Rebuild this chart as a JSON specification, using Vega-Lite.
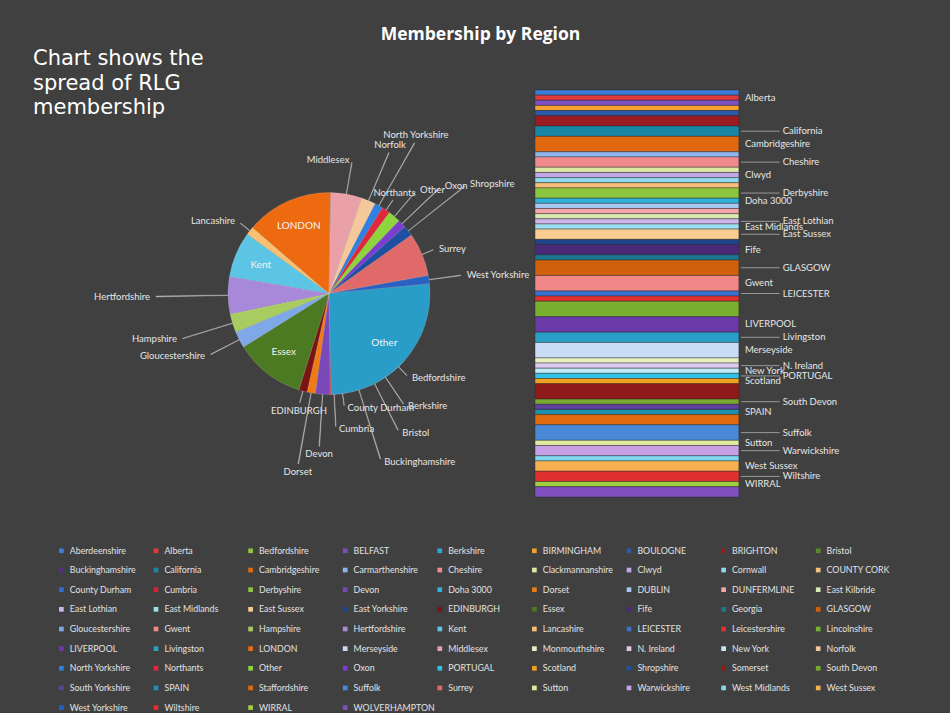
{
  "$schema": "https://vega.github.io/schema/vega-lite/v6.json",
  "background": "#404040",
  "padding": {"left": 33, "top": 25, "right": 49, "bottom": 5},
  "bounds": "flush",
  "spacing": 76,
  "title": {"text": "Membership by Region", "font": "Open Sans", "fontSize": 17.5, "fontWeight": "bold", "color": "#ffffff", "anchor": "middle", "offset": 5, "dx": 13},
  "data": {"values": [
    {"region": "Aberdeenshire", "members": 1},
    {"region": "Alberta", "members": 1, "lbl": true},
    {"region": "Bedfordshire", "members": 8},
    {"region": "BELFAST", "members": 1},
    {"region": "Berkshire", "members": 8},
    {"region": "BIRMINGHAM", "members": 1},
    {"region": "BOULOGNE", "members": 1},
    {"region": "BRIGHTON", "members": 2},
    {"region": "Bristol", "members": 4},
    {"region": "Buckinghamshire", "members": 12},
    {"region": "California", "members": 2, "lbl": true},
    {"region": "Cambridgeshire", "members": 3, "lbl": true},
    {"region": "Carmarthenshire", "members": 1},
    {"region": "Cheshire", "members": 2, "lbl": true},
    {"region": "Clackmannanshire", "members": 1},
    {"region": "Clwyd", "members": 1, "lbl": true},
    {"region": "Cornwall", "members": 1},
    {"region": "COUNTY CORK", "members": 1},
    {"region": "County Durham", "members": 4},
    {"region": "Cumbria", "members": 4},
    {"region": "Derbyshire", "members": 2, "lbl": true},
    {"region": "Devon", "members": 7},
    {"region": "Doha 3000", "members": 1, "lbl": true},
    {"region": "Dorset", "members": 4},
    {"region": "DUBLIN", "members": 1},
    {"region": "DUNFERMLINE", "members": 1},
    {"region": "East Kilbride", "members": 1},
    {"region": "East Lothian", "members": 1, "lbl": true},
    {"region": "East Midlands", "members": 1, "lbl": true},
    {"region": "East Sussex", "members": 2, "lbl": true},
    {"region": "East Yorkshire", "members": 1},
    {"region": "EDINBURGH", "members": 4},
    {"region": "Essex", "members": 34},
    {"region": "Fife", "members": 2, "lbl": true},
    {"region": "Georgia", "members": 1},
    {"region": "GLASGOW", "members": 3, "lbl": true},
    {"region": "Gloucestershire", "members": 8},
    {"region": "Gwent", "members": 3, "lbl": true},
    {"region": "Hampshire", "members": 9},
    {"region": "Hertfordshire", "members": 18},
    {"region": "Kent", "members": 22},
    {"region": "Lancashire", "members": 4},
    {"region": "LEICESTER", "members": 1, "lbl": true},
    {"region": "Leicestershire", "members": 1},
    {"region": "Lincolnshire", "members": 3},
    {"region": "LIVERPOOL", "members": 3, "lbl": true},
    {"region": "Livingston", "members": 2, "lbl": true},
    {"region": "LONDON", "members": 42},
    {"region": "Merseyside", "members": 3, "lbl": true},
    {"region": "Middlesex", "members": 15},
    {"region": "Monmouthshire", "members": 1},
    {"region": "N. Ireland", "members": 1, "lbl": true},
    {"region": "New York", "members": 1, "lbl": true},
    {"region": "Norfolk", "members": 7},
    {"region": "North Yorkshire", "members": 4},
    {"region": "Northants", "members": 4},
    {"region": "Other", "members": 6},
    {"region": "Oxon", "members": 4},
    {"region": "PORTUGAL", "members": 1, "lbl": true},
    {"region": "Scotland", "members": 1, "lbl": true},
    {"region": "Shropshire", "members": 5},
    {"region": "Somerset", "members": 3},
    {"region": "South Devon", "members": 1, "lbl": true},
    {"region": "South Yorkshire", "members": 1},
    {"region": "SPAIN", "members": 1, "lbl": true},
    {"region": "Staffordshire", "members": 2},
    {"region": "Suffolk", "members": 3, "lbl": true},
    {"region": "Surrey", "members": 21},
    {"region": "Sutton", "members": 1, "lbl": true},
    {"region": "Warwickshire", "members": 2, "lbl": true},
    {"region": "West Midlands", "members": 1},
    {"region": "West Sussex", "members": 2, "lbl": true},
    {"region": "West Yorkshire", "members": 4},
    {"region": "Wiltshire", "members": 2, "lbl": true},
    {"region": "WIRRAL", "members": 1, "lbl": true},
    {"region": "WOLVERHAMPTON", "members": 2}
  ]},
  "hconcat": [
    {
      "width": 260,
      "height": 407,
      "title": {"text": ["Chart shows the", "spread of RLG", "membership"], "anchor": "start", "frame": "group", "font": "DejaVu Sans", "fontSize": 21, "fontWeight": "normal", "color": "#ffffff", "lineHeight": 24.5, "dx": -166, "dy": 32},
      "transform": [
        {"calculate": "datum.members < 4", "as": "agg"},
        {"calculate": "datum.agg ? '(Other)' : datum.region", "as": "slice"},
        {"aggregate": [{"op": "sum", "field": "members", "as": "members"}], "groupby": ["slice", "agg"]},
        {"calculate": "datum.agg ? '~' : lower(datum.slice)", "as": "k"},
        {"stack": "members", "groupby": [], "sort": [{"field": "k"}], "as": ["a0", "a1"]},
        {"joinaggregate": [{"op": "sum", "field": "members", "as": "tot"}]},
        {"calculate": "(datum.a0 + datum.a1) / 2", "as": "am"},
        {"calculate": "(131.7 + 360 * datum.am / datum.tot) % 360", "as": "ang"},
        {"calculate": "datum.agg ? 'Other' : datum.slice", "as": "label"}
      ],
      "layer": [
        {
          "transform": [{"filter": "!datum.agg"}],
          "mark": {"type": "arc", "outerRadius": 101, "stroke": "#ffffff", "strokeWidth": 0.4, "strokeOpacity": 0.35},
          "encoding": {
            "theta": {"field": "a0", "type": "quantitative", "stack": null, "scale": {"type": "linear", "zero": true, "nice": false, "range": [2.2986, 8.5818]}},
            "theta2": {"field": "a1"},
            "color": {
              "field": "slice", "type": "nominal",
              "scale": {
                "domain": ["Aberdeenshire","Alberta","Bedfordshire","BELFAST","Berkshire","BIRMINGHAM","BOULOGNE","BRIGHTON","Bristol","Buckinghamshire","California","Cambridgeshire","Carmarthenshire","Cheshire","Clackmannanshire","Clwyd","Cornwall","COUNTY CORK","County Durham","Cumbria","Derbyshire","Devon","Doha 3000","Dorset","DUBLIN","DUNFERMLINE","East Kilbride","East Lothian","East Midlands","East Sussex","East Yorkshire","EDINBURGH","Essex","Fife","Georgia","GLASGOW","Gloucestershire","Gwent","Hampshire","Hertfordshire","Kent","Lancashire","LEICESTER","Leicestershire","Lincolnshire","LIVERPOOL","Livingston","LONDON","Merseyside","Middlesex","Monmouthshire","N. Ireland","New York","Norfolk","North Yorkshire","Northants","Other","Oxon","PORTUGAL","Scotland","Shropshire","Somerset","South Devon","South Yorkshire","SPAIN","Staffordshire","Suffolk","Surrey","Sutton","Warwickshire","West Midlands","West Sussex","West Yorkshire","Wiltshire","WIRRAL","WOLVERHAMPTON"],
                "range": ["#3b7dd8","#e03a3e","#8cc63e","#7d4fc0","#2ca9d2","#f5a030",
                          "#2a5aa8","#9a1c22","#5a8a2a","#52308a","#1a86a6","#e0680e",
                          "#8fb6ec","#f08a8e","#dfe9a6","#c3a6e8","#8fd8ee","#f7c07a",
                          "#2f6fd0","#d0282e","#8cc63e","#7a48b8","#30b4dc","#f07a14",
                          "#a6c8f2","#f4a6aa","#d8eab0","#cdb6ec","#9ee0f0","#f9cc92",
                          "#1f4488","#7a1414","#4c7a22","#4a2a78","#1a7890","#d0600c",
                          "#7ea8e8","#f08888","#a8cc60","#a888d8","#5cc4e4","#f8c070",
                          "#3a70d0","#e03030","#7ab030","#6a3aa8","#2aa0c8","#ee6a10",
                          "#c9dcf5","#eaa0a8","#e7efc0","#dccbf0","#c0ecf6","#f4c89a",
                          "#2f80e0","#e02838","#8ed43c","#7a3ed0","#30c0e8","#f0a020",
                          "#1f4fa0","#8e1a1a","#78a830","#6040a0","#1e90b0","#e06a10",
                          "#4a88d8","#e06a6a","#e0eaa0","#c8a0e8","#80d8f0","#f8b050",
                          "#2a60c0","#e03030","#a0d040","#8050c0"]
              },
              "legend": {
                "title": null,
                "orient": "none",
                "legendX": -142,
                "legendY": 456,
                "direction": "horizontal",
                "columns": 9,
                "symbolLimit": 200,
                "symbolType": "square",
                "symbolSize": 22,
                "symbolStrokeWidth": 0,
                "labelFont": "Lato",
                "labelFontSize": 8.8,
                "labelColor": "#e2e2e2",
                "labelOffset": 4,
                "labelLimit": 86,
                "rowPadding": 9.65,
                "columnPadding": 0.6,
                "gridAlign": "all"
              }
            }
          }
        },
        {
          "transform": [{"filter": "datum.agg"}],
          "mark": {"type": "arc", "outerRadius": 101, "color": "#2a9cc8", "stroke": "#ffffff", "strokeWidth": 0.4, "strokeOpacity": 0.35},
          "encoding": {
            "theta": {"field": "a0", "type": "quantitative", "stack": null},
            "theta2": {"field": "a1"}
          }
        },
        {
          "transform": [
            {"filter": "!datum.agg && datum.members < 22"},
            {"window": [{"op": "row_number", "as": "rn"}], "sort": [{"field": "k"}]},
            {"calculate": "(datum.rn - 1) % 4 - 0.15", "as": "tier"},
            {"calculate": "datum.am - 0.12", "as": "t0"},
            {"calculate": "datum.am + 0.12", "as": "t1"}
          ],
          "mark": {"type": "arc", "innerRadius": 101, "fill": "#b8b8b8", "stroke": "#b8b8b8", "strokeWidth": 0.4},
          "encoding": {
            "theta": {"field": "t0", "type": "quantitative", "stack": null},
            "theta2": {"field": "t1"},
            "radius": {"field": "tier", "type": "quantitative", "scale": {"type": "linear", "domain": [0, 3], "range": [116, 176], "zero": false}}
          }
        },
        {
          "transform": [
            {"filter": "!datum.agg && datum.members < 22"},
            {"window": [{"op": "row_number", "as": "rn"}], "sort": [{"field": "k"}]},
            {"calculate": "(datum.rn - 1) % 4", "as": "tier"}
          ],
          "mark": {
            "type": "text", "font": "Lato", "fontSize": 9.5, "color": "#e6e6e6",
            "align": {"expr": "datum.ang > 8 && datum.ang < 172 ? 'left' : (datum.ang > 188 && datum.ang < 352 ? 'right' : 'center')"},
            "baseline": {"expr": "datum.ang >= 172 && datum.ang <= 188 ? 'top' : (datum.ang >= 352 || datum.ang <= 8 ? 'bottom' : 'middle')"},
            "dx": {"expr": "datum.ang > 8 && datum.ang < 172 ? 3 : (datum.ang > 188 && datum.ang < 352 ? -3 : 0)"}
          },
          "encoding": {
            "theta": {"field": "am", "type": "quantitative", "stack": null},
            "radius": {"field": "tier", "type": "quantitative"},
            "text": {"field": "label"}
          }
        },
        {
          "transform": [{"filter": "datum.agg || datum.members >= 22"}],
          "mark": {"type": "text", "radius": 74, "font": "Lato", "fontSize": 10, "color": "#f4f4f4"},
          "encoding": {
            "theta": {"field": "am", "type": "quantitative", "stack": null},
            "text": {"field": "label"}
          }
        }
      ]
    },
    {
      "width": 367,
      "height": 407,
      "transform": [
        {"filter": "datum.members < 4"},
        {"calculate": "lower(datum.region)", "as": "k"},
        {"stack": "members", "groupby": [], "sort": [{"field": "k"}], "as": ["v0", "v1"]},
        {"calculate": "(datum.v0 + datum.v1) / 2", "as": "vm"}
      ],
      "layer": [
        {
          "mark": {"type": "bar", "stroke": "#2a2a2a", "strokeWidth": 0.6, "strokeOpacity": 0.7},
          "encoding": {
            "x": {"datum": 0, "type": "quantitative", "scale": {"domain": [0, 1.8]}, "axis": null},
            "x2": {"datum": 1},
            "y": {"field": "v0", "type": "quantitative", "scale": {"reverse": true, "nice": false, "zero": true}, "axis": null},
            "y2": {"field": "v1"},
            "color": {"field": "region", "type": "nominal"}
          }
        },
        {
          "transform": [
            {"filter": "datum.lbl"},
            {"window": [{"op": "row_number", "as": "rn"}], "sort": [{"field": "k"}]},
            {"filter": "datum.rn % 2 == 1"}
          ],
          "mark": {"type": "text", "align": "left", "dx": 6, "font": "Lato", "fontSize": 9.5, "color": "#e6e6e6"},
          "encoding": {
            "x": {"datum": 1, "type": "quantitative"},
            "y": {"field": "vm", "type": "quantitative"},
            "text": {"field": "region"}
          }
        },
        {
          "transform": [
            {"filter": "datum.lbl"},
            {"window": [{"op": "row_number", "as": "rn"}], "sort": [{"field": "k"}]},
            {"filter": "datum.rn % 2 == 0"}
          ],
          "mark": {"type": "rule", "color": "#b0b0b0", "strokeWidth": 0.8},
          "encoding": {
            "x": {"datum": 1.01, "type": "quantitative"},
            "x2": {"datum": 1.2},
            "y": {"field": "vm", "type": "quantitative"}
          }
        },
        {
          "transform": [
            {"filter": "datum.lbl"},
            {"window": [{"op": "row_number", "as": "rn"}], "sort": [{"field": "k"}]},
            {"filter": "datum.rn % 2 == 0"}
          ],
          "mark": {"type": "text", "align": "left", "dx": 3, "font": "Lato", "fontSize": 9.5, "color": "#e6e6e6"},
          "encoding": {
            "x": {"datum": 1.2, "type": "quantitative"},
            "y": {"field": "vm", "type": "quantitative"},
            "text": {"field": "region"}
          }
        }
      ]
    }
  ],
  "resolve": {"scale": {"color": "shared"}, "legend": {"color": "shared"}},
  "config": {
    "view": {"stroke": null},
    "font": "Lato"
  }
}
